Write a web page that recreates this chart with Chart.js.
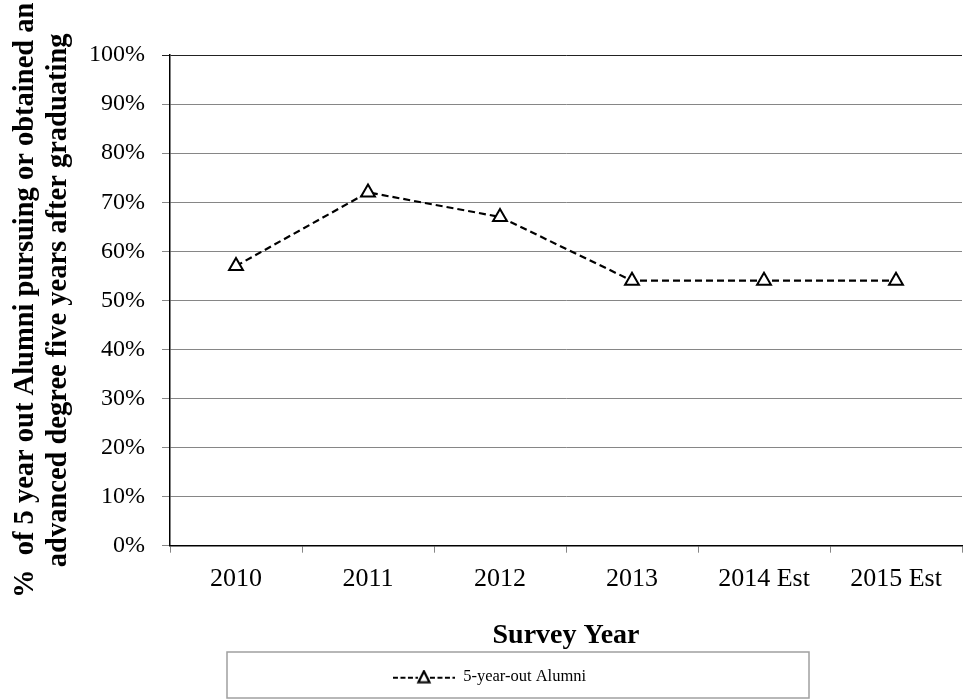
<!DOCTYPE html>
<html lang="en">
<head>
    <meta charset="UTF-8">
    <title>5-year-out Alumni</title>
    <script src="https://cdn.jsdelivr.net/npm/chart.js@4/dist/chart.umd.min.js"></script>
    <style>
        html, body { margin: 0; padding: 0; background: #fff; overflow: hidden }
        .wrap { width: 963px; height: 700px; overflow: hidden }
    </style>
</head>
<body>
<div class="wrap">
    <!-- plot runs slightly past the right edge, like the source image -->
    <canvas id="alumni-chart" width="972" height="700"></canvas>
</div>
<script>
    const years = ['2010', '2011', '2012', '2013', '2014 Est', '2015 Est'];
    const alumniPct = [57, 72, 67, 54, 54, 54];
    const seriesName = '5-year-out Alumni';
    const yTitle = ['%  of 5 year out Alumni pursuing or obtained an', 'advanced degree five years after graduating'];
    const xTitle = 'Survey Year';

    const serif = "'Liberation Serif', 'Times New Roman', serif";

    // legend swatch: dashed line with hollow triangle
    const swatch = document.createElement('canvas');
    swatch.width = 62;
    swatch.height = 14;
    (function () {
        const c = swatch.getContext('2d');
        c.strokeStyle = '#000';
        c.lineWidth = 2.2;
        c.setLineDash([5, 2.5]);
        c.beginPath();
        c.moveTo(0, 8); c.lineTo(25, 8);
        c.moveTo(37, 8); c.lineTo(62, 8);
        c.stroke();
        c.setLineDash([]);
        c.fillStyle = '#fff';
        c.beginPath();
        c.moveTo(31, 1.5); c.lineTo(36.5, 12.5); c.lineTo(25.5, 12.5); c.closePath();
        c.fill();
        c.stroke();
    })();

    const legendBox = {
        id: 'legendBox',
        afterDraw(chart) {
            const ctx = chart.ctx;
            ctx.save();
            ctx.strokeStyle = '#a0a0a0';
            ctx.lineWidth = 1.5;
            ctx.strokeRect(227, 652, 582, 46);
            ctx.restore();
        }
    };

    new Chart(document.getElementById('alumni-chart'), {
        type: 'line',
        data: {
            labels: years,
            datasets: [{
                label: seriesName,
                data: alumniPct,
                borderColor: '#000',
                borderWidth: 2.2,
                borderDash: [7, 4],
                pointStyle: 'triangle',
                pointRadius: 8,
                pointBorderWidth: 2,
                pointBackgroundColor: '#fff',
                pointBorderColor: '#000',
                tension: 0,
                fill: false
            }]
        },
        options: {
            responsive: false,
            animation: false,
            layout: { padding: { left: 9, right: 2, top: 55, bottom: 5 } },
            plugins: {
                tooltip: { enabled: false },
                legend: {
                    position: 'bottom',
                    labels: {
                        color: '#000',
                        font: { family: serif, size: 16.5 },
                        usePointStyle: true,
                        pointStyleWidth: 62,
                        boxHeight: 14,
                        padding: 16,
                        generateLabels: (chart) => chart.data.datasets.map((ds, i) => ({
                            text: ds.label,
                            pointStyle: swatch,
                            datasetIndex: i,
                            fontColor: '#000',
                            lineWidth: 0,
                            strokeStyle: 'transparent',
                            fillStyle: 'transparent'
                        }))
                    }
                }
            },
            scales: {
                x: {
                    offset: true,
                    grid: {
                        offset: true,
                        drawOnChartArea: false,
                        drawTicks: true,
                        tickLength: 7,
                        color: '#868686'
                    },
                    border: { color: '#000', width: 1.5 },
                    ticks: {
                        color: '#000',
                        font: { family: serif, size: 26 },
                        padding: 11,
                        maxRotation: 0
                    },
                    title: {
                        display: true,
                        text: xTitle,
                        color: '#000',
                        font: { family: serif, size: 28, weight: 'bold' },
                        padding: { top: 13, bottom: 0 }
                    }
                },
                y: {
                    min: 0,
                    max: 100,
                    afterFit: (scale) => { scale.width = 161; },
                    grid: {
                        color: (ctx) => ctx.tick && ctx.tick.value === 100 ? '#222' : '#868686',
                        tickLength: 8,
                        lineWidth: 1
                    },
                    border: { color: '#000', width: 1.5 },
                    ticks: {
                        stepSize: 10,
                        color: '#000',
                        font: { family: serif, size: 24 },
                        padding: 17,
                        callback: (v) => v + '%'
                    },
                    title: {
                        display: true,
                        text: yTitle,
                        color: '#000',
                        font: { family: serif, size: 28.5, weight: 'bold', lineHeight: 1.15 },
                        padding: { top: 0, bottom: 10 }
                    }
                }
            }
        },
        plugins: [legendBox]
    });
</script>
</body>
</html>
